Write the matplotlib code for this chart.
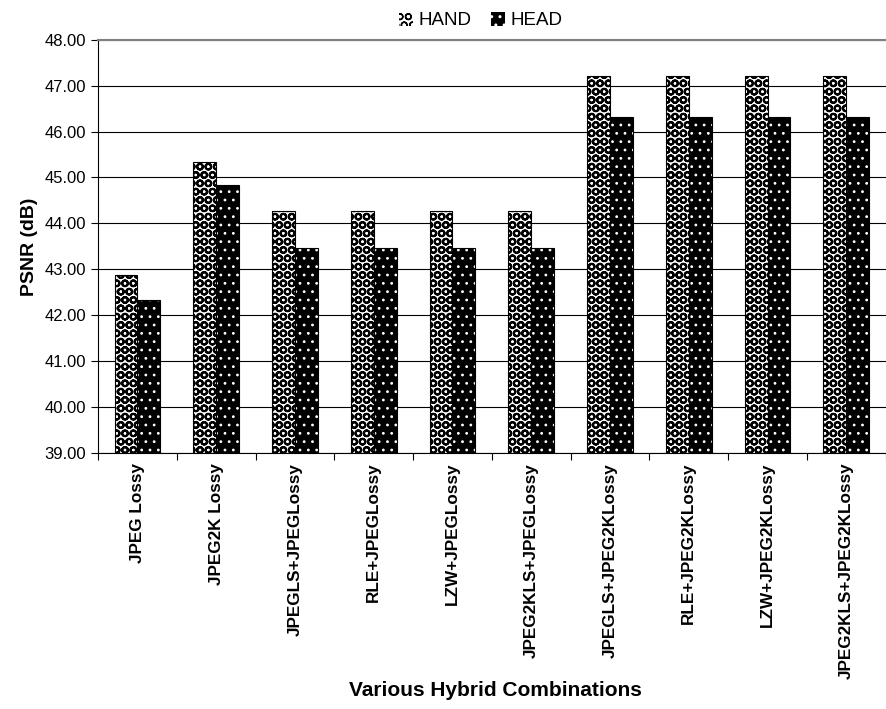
import matplotlib.pyplot as plt
import numpy as np
from matplotlib.patches import Patch

plt.rcParams['font.family'] = ['Liberation Sans', 'DejaVu Sans']

# data
categories = ['JPEG Lossy', 'JPEG2K Lossy', 'JPEGLS+JPEGLossy', 'RLE+JPEGLossy',
              'LZW+JPEGLossy', 'JPEG2KLS+JPEGLossy', 'JPEGLS+JPEG2KLossy',
              'RLE+JPEG2KLossy', 'LZW+JPEG2KLossy', 'JPEG2KLS+JPEG2KLossy']
hand = [42.87, 45.33, 44.28, 44.28, 44.28, 44.28, 47.20, 47.20, 47.20, 47.20]
head = [42.33, 44.83, 43.47, 43.47, 43.47, 43.47, 46.31, 46.31, 46.31, 46.31]

x = np.arange(len(categories))
w = 0.29

fig = plt.figure(figsize=(8.87, 7.09), dpi=100)
ax = fig.add_axes([0.1105, 0.361, 0.888, 0.583])

# HAND: black rings on white, HEAD: white dots on black
with plt.rc_context({'hatch.linewidth': 1.5}):
    ax.bar(x - w / 2, np.array(hand) - 39, w, bottom=39, color='white', hatch='OO',
           edgecolor='black', linewidth=0, zorder=2)
    hand_patch = Patch(facecolor='white', hatch='OO', edgecolor='black', linewidth=0)
with plt.rc_context({'hatch.linewidth': 0.8}):
    ax.bar(x + w / 2, np.array(head) - 39, w, bottom=39, color='black', hatch='..',
           edgecolor='white', linewidth=0, zorder=2)
    head_patch = Patch(facecolor='black', hatch='..', edgecolor='white', linewidth=0)
ax.bar(x - w / 2, np.array(hand) - 39, w, bottom=39, fill=False,
       edgecolor='black', linewidth=0.8, zorder=3)
ax.bar(x + w / 2, np.array(head) - 39, w, bottom=39, fill=False,
       edgecolor='black', linewidth=0.8, zorder=3)

ax.set_ylim(39, 48)
ax.set_xlim(-0.5, len(categories) - 0.5)
ax.set_yticks(np.arange(39, 48.5, 1))
ax.set_yticklabels(['%.2f' % v for v in np.arange(39, 48.5, 1)], fontsize=12)
ax.yaxis.grid(True, color='black', linewidth=0.8, zorder=0)
ax.set_axisbelow(True)

# x tick marks between groups, labels at the centres
ax.set_xticks(np.arange(-0.5, len(categories), 1))
ax.set_xticklabels([])
ax.set_xticks(x, minor=True)
ax.set_xticklabels(categories, minor=True, rotation=90, fontsize=12.3,
                   fontweight='bold', va='top')
ax.tick_params(axis='x', which='minor', length=0, pad=7)
ax.tick_params(axis='x', which='major', length=5, direction='out')
ax.tick_params(axis='y', length=5, direction='out')

ax.spines['right'].set_visible(False)
ax.spines['top'].set_color('gray')
ax.spines['top'].set_linewidth(1.5)

ax.set_ylabel('PSNR (dB)', fontsize=14, fontweight='bold', labelpad=5)
fig.text(0.559, 1 - 690 / 709, 'Various Hybrid Combinations', fontsize=15,
         fontweight='bold', ha='center', va='center')

fig.legend([hand_patch, head_patch], ['HAND', 'HEAD'], loc='center',
           bbox_to_anchor=(0.542, 0.971), ncol=2, frameon=False, fontsize=13.5,
           handlelength=0.75, handleheight=0.75, handletextpad=0.3, columnspacing=1.0)

plt.savefig('out.png')
